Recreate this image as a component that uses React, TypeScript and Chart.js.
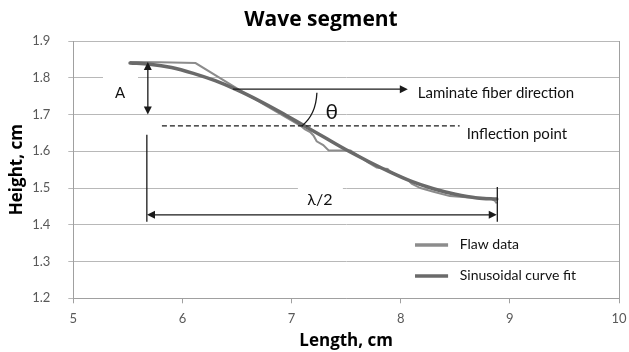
import React, { useEffect, useRef } from 'react';
import { Chart, registerables } from 'chart.js';
Chart.register(...registerables);

const titleText = 'Wave segment';
const xTitle = 'Length, cm';
const yTitle = 'Height, cm';
const seriesNames = ['Flaw data', 'Sinusoidal curve fit'];

const flawX = [5.52, 5.8, 6.12, 6.6, 7.08, 7.12, 7.17, 7.2, 7.23, 7.29, 7.34, 7.54, 7.6, 7.7, 7.78, 7.84, 7.88, 7.9, 7.95, 8.03, 8.07, 8.1, 8.18, 8.3, 8.45, 8.6, 8.82, 8.86, 8.88];
const flawY = [1.843, 1.842, 1.840, 1.753, 1.670, 1.660, 1.652, 1.643, 1.627, 1.617, 1.602, 1.602, 1.590, 1.570, 1.556, 1.553, 1.552, 1.545, 1.538, 1.527, 1.521, 1.512, 1.500, 1.490, 1.478, 1.475, 1.473, 1.466, 1.458];

const fitX = [5.52, 5.7, 5.9, 6.1, 6.3, 6.5, 6.7, 6.9, 7.1, 7.3, 7.5, 7.7, 7.9, 8.1, 8.3, 8.5, 8.7, 8.88];
const fitY = [1.840, 1.837, 1.828, 1.812, 1.792, 1.767, 1.738, 1.706, 1.672, 1.638, 1.604, 1.573, 1.544, 1.518, 1.498, 1.483, 1.473, 1.470];

const xMin = 5, xMax = 10, xStep = 1;
const yMin = 1.2, yMax = 1.9, yStep = 0.1;

const FONT = 'Lato, "Open Sans", sans-serif';
const BOLD_FONT = '"Open Sans", Lato, sans-serif';

function arrowHead(ctx: CanvasRenderingContext2D, x: number, y: number, dir: 'up' | 'down' | 'left' | 'right', size = 8, half = 4) {
  ctx.beginPath();
  if (dir === 'up') { ctx.moveTo(x, y); ctx.lineTo(x - half, y + size); ctx.lineTo(x + half, y + size); }
  if (dir === 'down') { ctx.moveTo(x, y); ctx.lineTo(x - half, y - size); ctx.lineTo(x + half, y - size); }
  if (dir === 'left') { ctx.moveTo(x, y); ctx.lineTo(x + size, y - half); ctx.lineTo(x + size, y + half); }
  if (dir === 'right') { ctx.moveTo(x, y); ctx.lineTo(x - size, y - half); ctx.lineTo(x - size, y + half); }
  ctx.closePath();
  ctx.fill();
}

const boxesPlugin = {
  id: 'whiteBoxes',
  beforeDatasetsDraw(chart: any) {
    const { ctx, scales: { x, y }, chartArea } = chart;
    ctx.save();
    ctx.fillStyle = '#ffffff';
    const box = (x0: number, x1: number, y0: number, y1: number) => {
      const px0 = x.getPixelForValue(x0), px1 = x.getPixelForValue(x1);
      const py0 = y.getPixelForValue(y0), py1 = y.getPixelForValue(y1);
      ctx.fillRect(px0, py0, px1 - px0, py1 - py0);
    };
    box(5.272, 5.593, 1.822, 1.713);
    box(7.058, 7.47, 1.509, 1.416);
    // right border
    ctx.strokeStyle = '#a0a0a0';
    ctx.lineWidth = 1;
    ctx.beginPath();
    ctx.moveTo(Math.round(chartArea.right) + 0.5, chartArea.top);
    ctx.lineTo(Math.round(chartArea.right) + 0.5, chartArea.bottom);
    ctx.stroke();
    ctx.restore();
  },
};

const annotPlugin = {
  id: 'annots',
  afterDatasetsDraw(chart: any) {
    const { ctx, scales: { x, y } } = chart;
    const X = (v: number) => x.getPixelForValue(v);
    const Y = (v: number) => y.getPixelForValue(v);
    ctx.save();
    ctx.strokeStyle = '#1a1a1a';
    ctx.fillStyle = '#1a1a1a';
    ctx.lineWidth = 1.3;

    // A arrow
    const ax = X(5.683);
    ctx.beginPath(); ctx.moveTo(ax, Y(1.843) + 4); ctx.lineTo(ax, Y(1.700) - 4); ctx.stroke();
    arrowHead(ctx, ax, Y(1.843), 'up');
    arrowHead(ctx, ax, Y(1.700), 'down');
    // lower vertical line
    ctx.beginPath(); ctx.moveTo(ax - 1, Y(1.645)); ctx.lineTo(ax - 1, Y(1.408)); ctx.stroke();
    // lambda/2 arrow
    const ly = Y(1.427);
    ctx.beginPath(); ctx.moveTo(X(5.68) + 4, ly); ctx.lineTo(X(8.88) - 4, ly); ctx.stroke();
    arrowHead(ctx, X(5.675), ly, 'left');
    arrowHead(ctx, X(8.88), ly, 'right');
    // right vertical line
    ctx.beginPath(); ctx.moveTo(X(8.885), Y(1.503)); ctx.lineTo(X(8.885), Y(1.408)); ctx.stroke();
    // laminate fiber direction arrow
    const fy = Y(1.769);
    ctx.beginPath(); ctx.moveTo(X(6.462), fy); ctx.lineTo(X(8.06) - 4, fy); ctx.stroke();
    arrowHead(ctx, X(8.065), fy, 'right');
    // inflection dashed line
    ctx.save();
    ctx.setLineDash([5, 3]);
    ctx.lineWidth = 1.1;
    ctx.beginPath(); ctx.moveTo(X(5.812), Y(1.669)); ctx.lineTo(X(8.54), Y(1.669)); ctx.stroke();
    ctx.restore();
    // theta arc
    ctx.beginPath();
    ctx.moveTo(X(7.232), Y(1.759));
    ctx.quadraticCurveTo(X(7.223), Y(1.699), X(7.095), Y(1.669));
    ctx.stroke();

    // texts
    ctx.fillStyle = '#111111';
    ctx.textBaseline = 'middle';
    ctx.textAlign = 'center';
    ctx.font = `15px ${FONT}`;
    ctx.fillText('A', X(5.428), Y(1.759));
    ctx.font = `16px ${FONT}`;
    ctx.fillText('λ/2', X(7.259), Y(1.468));
    ctx.font = `21px ${FONT}`;
    ctx.fillText('θ', X(7.369), Y(1.707));
    ctx.textAlign = 'left';
    ctx.font = `15px ${FONT}`;
    ctx.fillText('Laminate fiber direction', X(8.156), Y(1.759));
    ctx.fillText('Inflection point', X(8.605), Y(1.6475));

    // legend
    const legendY = [1.345, 1.2605];
    const legendColors = ['#8c8c8c', '#6a6a6a'];
    legendY.forEach((v, i) => {
      ctx.strokeStyle = legendColors[i];
      ctx.lineWidth = 3.5;
      ctx.beginPath(); ctx.moveTo(X(8.131), Y(v)); ctx.lineTo(X(8.434), Y(v)); ctx.stroke();
      ctx.fillStyle = '#111111';
      ctx.font = `14px ${FONT}`;
      ctx.fillText(seriesNames[i], X(8.541), Y(v) - 1);
    });

    // title
    ctx.textAlign = 'center';
    ctx.font = `bold 21px ${BOLD_FONT}`;
    ctx.fillStyle = '#000000';
    ctx.fillText(titleText, 321, 20);
    ctx.restore();
  },
};

export default function App() {
  const ref = useRef<HTMLCanvasElement>(null);
  useEffect(() => {
    if (!ref.current) return;
    const chart = new Chart(ref.current, {
      type: 'scatter',
      data: {
        datasets: [
          {
            label: seriesNames[1],
            data: fitX.map((v, i) => ({ x: v, y: fitY[i] })),
            showLine: true,
            borderColor: '#6a6a6a',
            borderWidth: 3.5,
            pointRadius: 0,
            cubicInterpolationMode: 'monotone',
            borderCapStyle: 'round',
          },
          {
            label: seriesNames[0],
            data: flawX.map((v, i) => ({ x: v, y: flawY[i] })),
            showLine: true,
            borderColor: '#8c8c8c',
            borderWidth: 2,
            pointRadius: 0,
            tension: 0,
          },
        ],
      } as any,
      options: {
        animation: false,
        responsive: false,
        devicePixelRatio: 1,
        layout: { padding: { top: 41, right: 0, bottom: 1, left: 0 } },
        plugins: { legend: { display: false }, title: { display: false }, tooltip: { enabled: false } },
        scales: {
          x: {
            type: 'linear',
            min: xMin,
            max: xMax,
            ticks: { stepSize: xStep, padding: 8, color: '#595959', font: { family: FONT, size: 13 } },
            grid: { drawOnChartArea: false, drawTicks: true, tickLength: 5, color: '#a0a0a0' },
            border: { display: true, color: '#a0a0a0' },
            title: { display: true, text: xTitle, color: '#000', font: { family: BOLD_FONT, size: 17, weight: 'bold' }, padding: { top: 0, bottom: 0 } },
            afterFit: (s: any) => { s.height = 352 - 1 - 298.3; s.paddingRight = 10; s.paddingLeft = 0; },
          },
          y: {
            type: 'linear',
            min: yMin,
            max: yMax,
            ticks: { stepSize: yStep, padding: 18, color: '#595959', font: { family: FONT, size: 13 }, callback: (v: any) => Number(v).toFixed(1) },
            grid: { color: '#b8b8b8', tickLength: 5, drawTicks: true },
            border: { display: true, color: '#a0a0a0' },
            title: { display: true, text: yTitle, color: '#000', font: { family: BOLD_FONT, size: 17, weight: 'bold' }, padding: { top: 7, bottom: 0 } },
            afterFit: (s: any) => { s.width = 73.3; },
          },
        },
      } as any,
      plugins: [boxesPlugin, annotPlugin],
    });
    return () => chart.destroy();
  }, []);
  return (
    <div style={{ position: 'absolute', left: 0, top: 0, width: 629, height: 352, background: '#fff' }}>
      <canvas ref={ref} width={629} height={352} />
    </div>
  );
}
